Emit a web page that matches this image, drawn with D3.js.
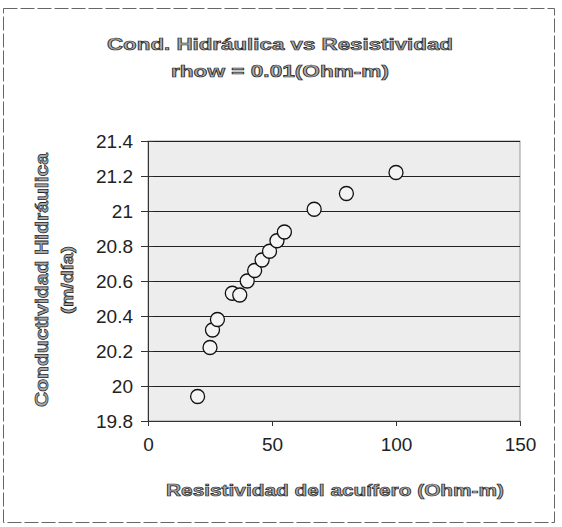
<!DOCTYPE html>
<html>
<head>
<meta charset="utf-8">
<script src="https://cdn.jsdelivr.net/npm/d3@7"></script>
<style>
body { margin: 0; background: #fff; }
text { font-family: "Liberation Sans", Arial, sans-serif; }
</style>
</head>
<body>
<div id="chart"></div>
<script>
// values
var resistividad = [20, 25, 26, 28, 34, 37, 40, 43, 46, 49, 52, 55, 67, 80, 100];
var conductividad = [19.94, 20.22, 20.32, 20.38, 20.53, 20.52, 20.6, 20.66, 20.72, 20.77, 20.83, 20.88, 21.01, 21.1, 21.22];
var xTicks = [0, 50, 100, 150];
var yTicks = [19.8, 20, 20.2, 20.4, 20.6, 20.8, 21, 21.2, 21.4];
var yTickLabels = ["19.8", "20", "20.2", "20.4", "20.6", "20.8", "21", "21.2", "21.4"];

var width = 562, height = 527;
var plot = {left: 148, right: 520, top: 141, bottom: 421};

var svg = d3.select("#chart").append("svg")
    .attr("width", width)
    .attr("height", height);

// outer chart border
svg.append("rect")
    .attr("x", 3.5).attr("y", 8.5)
    .attr("width", 551).attr("height", 514)
    .style("fill", "none")
    .style("stroke", "#666")
    .style("stroke-dasharray", "14,3");

var x = d3.scaleLinear().domain([0, 150]).range([plot.left, plot.right]);
var y = d3.scaleLinear().domain([19.8, 21.4]).range([plot.bottom, plot.top]);

// plot area
svg.append("rect")
    .attr("x", plot.left).attr("y", plot.top)
    .attr("width", plot.right - plot.left)
    .attr("height", plot.bottom - plot.top)
    .style("fill", "#ededed")
    .style("stroke", "#999");

// gridlines
svg.append("g").selectAll("line")
    .data(yTicks)
    .enter().append("line")
    .attr("x1", plot.left).attr("x2", plot.right)
    .attr("y1", function(d) { return Math.round(y(d)) + 0.5; })
    .attr("y2", function(d) { return Math.round(y(d)) + 0.5; })
    .style("stroke", "#222")
    .style("stroke-width", 1.2);

// axes
var yAxis = d3.axisLeft(y).tickValues(yTicks)
    .tickFormat(function(d, i) { return yTickLabels[i]; })
    .tickSize(7).tickPadding(8);
var xAxis = d3.axisBottom(x).tickValues(xTicks)
    .tickFormat(d3.format("d"))
    .tickSize(5).tickPadding(12);

var gy = svg.append("g")
    .attr("transform", "translate(" + plot.left + ",0)")
    .call(yAxis);
var gx = svg.append("g")
    .attr("transform", "translate(0," + plot.bottom + ")")
    .call(xAxis);

// y ticks cross the axis a little
gy.selectAll(".tick line").attr("x1", 5);

[gx, gy].forEach(function(g) {
    g.select(".domain").style("stroke", "#333");
    g.selectAll(".tick line").style("stroke", "#333");
    g.selectAll("text")
        .style("font-size", "19px")
        .style("fill", "#222");
});

// markers
svg.append("g").selectAll("circle")
    .data(resistividad)
    .enter().append("circle")
    .attr("cx", function(d) { return x(d); })
    .attr("cy", function(d, i) { return y(conductividad[i]); })
    .attr("r", 7)
    .style("fill", "#f4f4f4")
    .style("stroke", "#111")
    .style("stroke-width", 1.3);

// titles, stretched to the width they have in the scan
function label(t, xp, yp, size, len, rot) {
    var el = svg.append("text")
        .attr("text-anchor", "middle")
        .attr("textLength", len)
        .attr("lengthAdjust", "spacingAndGlyphs")
        .style("font-size", size + "px")
        .style("font-weight", "bold")
        .style("fill", "#aaa")
        .style("stroke", "#222")
        .style("stroke-width", 0.7)
        .text(t);
    if (rot) el.attr("transform", "translate(" + xp + "," + yp + ") rotate(-90)");
    else el.attr("x", xp).attr("y", yp);
}
label("Cond. Hidráulica vs Resistividad", 280, 50, 17, 346);
label("rhow = 0.01(Ohm-m)", 280, 77, 17, 218);
label("Resistividad del acuífero (Ohm-m)", 335, 496, 17, 338);
label("Conductividad Hidráulica", 48, 280, 18, 254, true);
label("(m/día)", 73, 280, 17, 68, true);
</script>
</body>
</html>
